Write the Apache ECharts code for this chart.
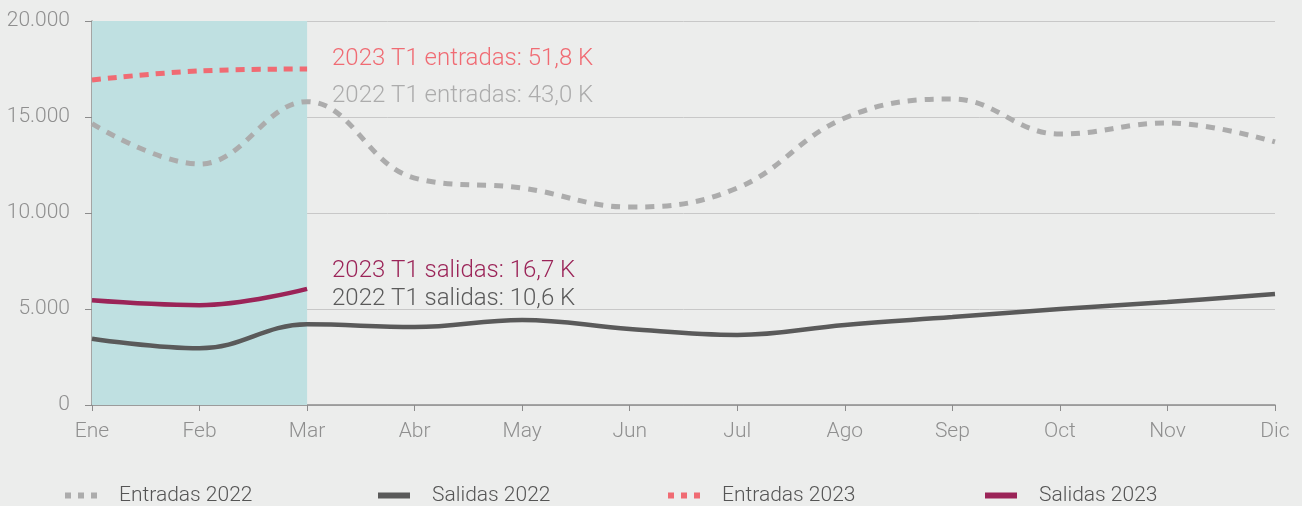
<!DOCTYPE html>
<html>
<head>
<meta charset="utf-8">
<script src="https://cdn.jsdelivr.net/npm/echarts@6/dist/echarts.min.js"></script>
<style>
  html, body { margin: 0; padding: 0; background: #ecedec; }
  #chart { width: 1302px; height: 506px; }
</style>
</head>
<body>
<div id="chart"></div>
<script>
var months = ["Ene", "Feb", "Mar", "Abr", "May", "Jun", "Jul", "Ago", "Sep", "Oct", "Nov", "Dic"];
var entradas2022 = [14650, 12550, 15800, 11820, 11300, 10310, 11300, 14950, 15940, 14110, 14690, 13700];
var salidas2022 = [3450, 2950, 4200, 4060, 4430, 3960, 3650, 4170, 4580, 5000, 5360, 5780];
var entradas2023 = [16930, 17400, 17500];
var salidas2023 = [5450, 5200, 6050];
var notes = [
    { text: "2023 T1 entradas: 51,8 K", color: "#f06b73", y: 57 },
    { text: "2022 T1 entradas: 43,0 K", color: "#acacac", y: 94 },
    { text: "2023 T1 salidas: 16,7 K", color: "#9b2458", y: 269 },
    { text: "2022 T1 salidas: 10,6 K", color: "#5a5a5a", y: 297 }
];

var font = "Roboto";
var dotted = "path://M0,0h6v6h-6z M13,0h6v6h-6z M26,0h6v6h-6z";
var legendItems = [
    { name: "Entradas 2022", icon: dotted, left: 65 },
    { name: "Salidas 2022", icon: "rect", left: 378 },
    { name: "Entradas 2023", icon: dotted, left: 668 },
    { name: "Salidas 2023", icon: "rect", left: 985 }
];

var chart = echarts.init(document.getElementById("chart"));

chart.setOption({
    backgroundColor: "#ecedec",
    textStyle: { fontFamily: font, fontWeight: 300 },
    grid: { left: 92, right: 27, top: 21, bottom: 101, containLabel: false },
    legend: legendItems.map(function(it) {
        return {
            left: it.left,
            bottom: 0,
            padding: 0,
            itemWidth: 32,
            itemHeight: 6,
            icon: it.icon,
            textStyle: { fontFamily: font, fontWeight: 300, fontSize: 21, color: "#555", padding: [0, 0, 0, 17] },
            data: [it.name]
        };
    }),
    xAxis: {
        type: "category",
        data: months,
        boundaryGap: false,
        axisLine: { lineStyle: { color: "#8c8c8c", width: 1.5 } },
        axisTick: { show: true, length: 6, lineStyle: { color: "#8c8c8c" } },
        axisLabel: { color: "#8f8f8f", fontSize: 21, fontFamily: font, fontWeight: 300, margin: 16 }
    },
    yAxis: {
        type: "value",
        min: 0,
        max: 20000,
        interval: 5000,
        axisLine: { show: true, lineStyle: { color: "#8c8c8c", width: 1.5 } },
        axisTick: { show: true, length: 7, lineStyle: { color: "#8c8c8c" } },
        splitLine: { lineStyle: { color: "#c8c8c8" } },
        axisLabel: {
            color: "#8f8f8f", fontSize: 21, fontFamily: font, fontWeight: 300, margin: 22,
            formatter: function(v) { return v.toLocaleString("de-DE"); }
        }
    },
    graphic: notes.map(function(n) {
        return {
            type: "text",
            left: 332,
            top: n.y - 10,
            style: { text: n.text, fill: n.color, font: "300 24px " + font }
        };
    }),
    series: [
        {
            name: "Entradas 2022",
            type: "line",
            smooth: 0.4,
            symbol: "none",
            data: entradas2022,
            itemStyle: { color: "#acacac" },
            lineStyle: { color: "#acacac", width: 5, type: [9, 8] },
            markArea: {
                silent: true,
                itemStyle: { color: "#bfe0e1" },
                data: [[{ xAxis: "Ene" }, { xAxis: "Mar" }]]
            },
            z: 3
        },
        {
            name: "Salidas 2022",
            type: "line",
            smooth: 0.4,
            symbol: "none",
            data: salidas2022,
            itemStyle: { color: "#5a5a5a" },
            lineStyle: { color: "#5a5a5a", width: 4.5 },
            z: 3
        },
        {
            name: "Entradas 2023",
            type: "line",
            smooth: 0.4,
            symbol: "none",
            data: entradas2023,
            itemStyle: { color: "#f06b73" },
            lineStyle: { color: "#f06b73", width: 5, type: [9, 7] },
            z: 4
        },
        {
            name: "Salidas 2023",
            type: "line",
            smooth: 0.4,
            symbol: "none",
            data: salidas2023,
            itemStyle: { color: "#9b2458" },
            lineStyle: { color: "#9b2458", width: 4.5 },
            z: 4
        }
    ]
});
</script>
</body>
</html>
